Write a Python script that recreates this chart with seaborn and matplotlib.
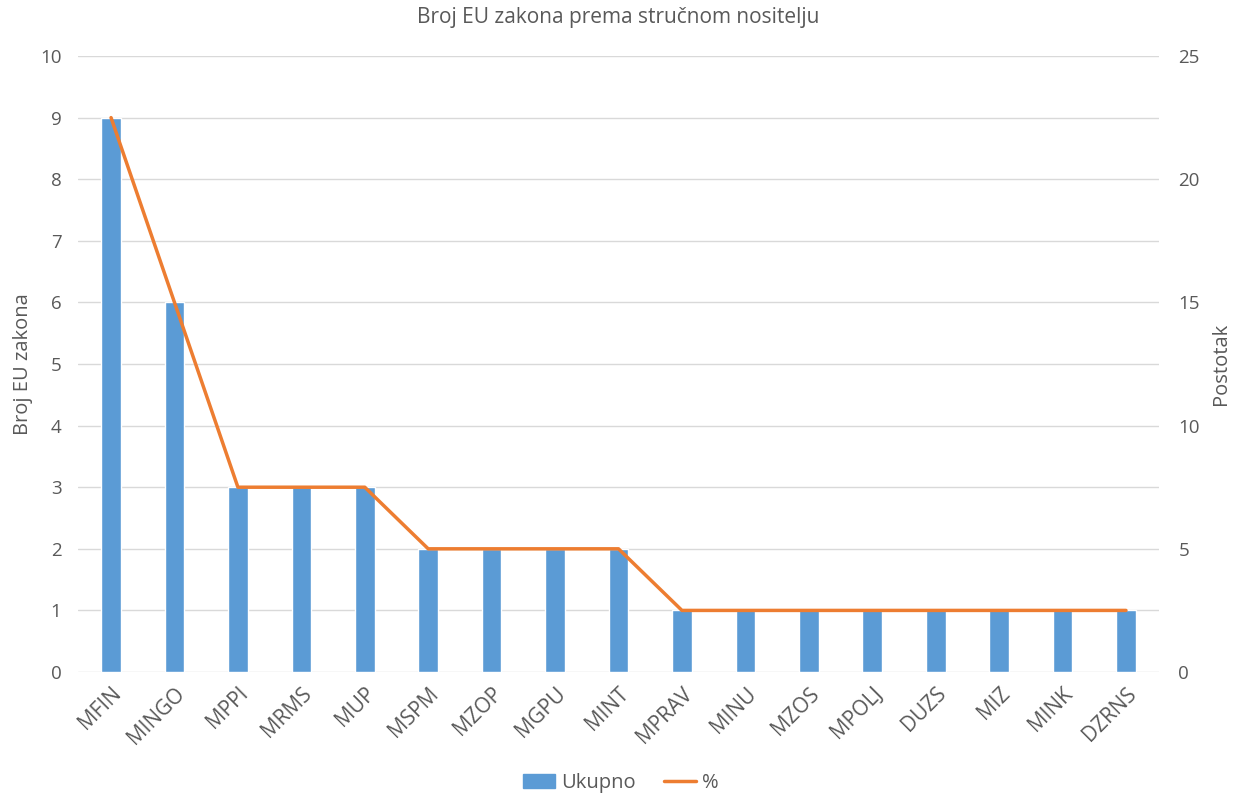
import seaborn as sns
import matplotlib.pyplot as plt
import pandas as pd

# Data
nositelji = ['MFIN', 'MINGO', 'MPPI', 'MRMS', 'MUP', 'MSPM', 'MZOP', 'MGPU', 'MINT',
             'MPRAV', 'MINU', 'MZOS', 'MPOLJ', 'DUZS', 'MIZ', 'MINK', 'DZRNS']
ukupno = [9, 6, 3, 3, 3, 2, 2, 2, 2, 1, 1, 1, 1, 1, 1, 1, 1]
postotak = [22.5, 15, 7.5, 7.5, 7.5, 5, 5, 5, 5, 2.5, 2.5, 2.5, 2.5, 2.5, 2.5, 2.5, 2.5]

df = pd.DataFrame({'Nositelj': nositelji, 'Ukupno': ukupno, '%': postotak})

sns.set_theme(style='white')
plt.rcParams['font.family'] = ['Open Sans', 'DejaVu Sans']

txt = '#595959'
fig = plt.figure(figsize=(12.41, 8.05), dpi=100)
ax = fig.add_axes([0.0629, 0.1652, 0.8710, 0.7652])

sns.barplot(data=df, x='Nositelj', y='Ukupno', color='#5B9BD5', width=0.31,
            saturation=1, ax=ax, zorder=3)
ax.set_ylim(0, 10)
ax.set_yticks(range(0, 11))
ax.set_xlim(-0.52, 16.52)
ax.grid(axis='y', color='#D9D9D9', linewidth=1, zorder=0)
ax.set_axisbelow(True)
for s in ax.spines.values():
    s.set_visible(False)
ax.tick_params(axis='y', length=0, labelsize=13.5, colors=txt, pad=12)
ax.tick_params(axis='x', length=0, labelsize=15, colors=txt, pad=8)
plt.setp(ax.get_xticklabels(), rotation=45, ha='right', rotation_mode='anchor')
ax.set_xlabel('')
ax.set_ylabel('Broj EU zakona', fontsize=14.5, color=txt, labelpad=5)

ax2 = ax.twinx()
sns.lineplot(x=list(range(len(nositelji))), y=postotak, color='#ED7D31',
             linewidth=2.5, ax=ax2, zorder=4)
ax2.set_ylim(0, 25)
ax2.set_yticks(range(0, 26, 5))
for s in ax2.spines.values():
    s.set_visible(False)
ax2.tick_params(axis='y', length=0, labelsize=13.5, colors=txt, pad=14)
ax2.set_ylabel('Postotak', fontsize=14.5, color=txt, labelpad=8)

ax.set_title('Broj EU zakona prema stručnom nositelju', fontsize=15, color=txt, pad=24)

handles = [plt.Rectangle((0, 0), 1, 1, color='#5B9BD5'),
           plt.Line2D([0], [0], color='#ED7D31', linewidth=2.5)]
fig.legend(handles, ['Ukupno', '%'], loc='lower center', ncol=2, frameon=False,
           fontsize=14.5, labelcolor=txt, bbox_to_anchor=(0.5, -0.008),
           handlelength=1.6, handletextpad=0.3, columnspacing=1.4)

fig.savefig('out.png', dpi=100)
